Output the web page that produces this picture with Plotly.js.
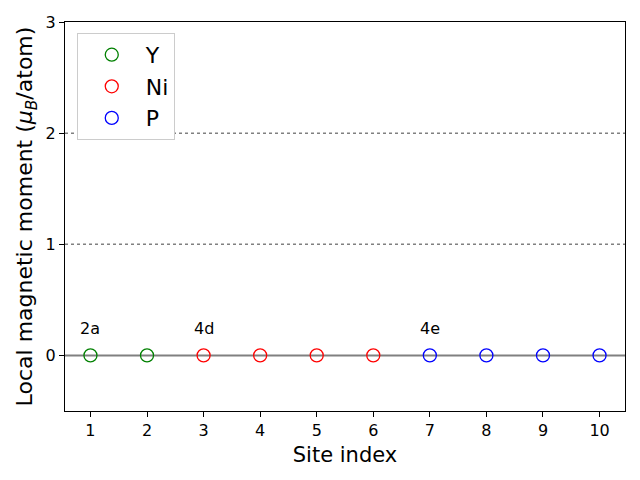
<!DOCTYPE html>
<html>
<head>
<meta charset="utf-8">
<script src="https://cdn.plot.ly/plotly-3.0.1.min.js"></script>
<style>html,body{margin:0;padding:0;background:#fff;}#chart{width:640px;height:480px;}</style>
</head>
<body>
<div id="chart"></div>
<script>
const ySites = [1, 2];
const yMoments = [0, 0];
const niSites = [3, 4, 5, 6];
const niMoments = [0, 0, 0, 0];
const pSites = [7, 8, 9, 10];
const pMoments = [0, 0, 0, 0];
const wyckoffLabels = ["2a", "4d", "4e"];
const wyckoffX = [1, 3, 7];
const wyckoffY = [0.24, 0.24, 0.24];
const refLines = [1, 2];
const xTicks = [1, 2, 3, 4, 5, 6, 7, 8, 9, 10];
const yTicks = [0, 1, 2, 3];

const font = "DejaVu Sans, sans-serif";
function mk(x, y, name, color) {
  return {x: x, y: y, name: name, type: "scatter", mode: "markers",
    marker: {symbol: "circle-open", size: 13, color: color, line: {width: 1.3, color: color}}};
}
const data = [
  mk(ySites, yMoments, "Y", "green"),
  mk(niSites, niMoments, "Ni", "red"),
  mk(pSites, pMoments, "P", "blue")
];
const shapes = [{type: "line", xref: "paper", x0: 0, x1: 1, y0: 0, y1: 0, layer: "below",
  line: {color: "gray", width: 2}}];
refLines.forEach(v => shapes.push({type: "line", xref: "paper", x0: 0, x1: 1, y0: v, y1: v, layer: "below",
  line: {color: "gray", width: 1.5, dash: "dot"}}));
const annotations = wyckoffLabels.map((t, i) => ({x: wyckoffX[i], y: wyckoffY[i], text: t, showarrow: false,
  xanchor: "center", yanchor: "middle", font: {family: font, size: 16, color: "black"}}));
const layout = {
  width: 640, height: 480,
  margin: {l: 65, r: 15, t: 22, b: 69},
  paper_bgcolor: "white", plot_bgcolor: "white",
  font: {family: font, color: "black"},
  showlegend: true,
  legend: {x: 0.021, y: 0.972, xanchor: "left", yanchor: "top", bgcolor: "white",
    bordercolor: "#cccccc", borderwidth: 1, font: {family: font, size: 22}, tracegroupgap: 0,
    itemwidth: 58},
  xaxis: {range: [0.55, 10.45], tickvals: xTicks, ticks: "outside", ticklen: 5, tickcolor: "black",
    showline: true, mirror: true, linecolor: "black", linewidth: 1, showgrid: false, zeroline: false,
    tickfont: {family: font, size: 16},
    title: {text: "Site index", font: {family: font, size: 21}, standoff: 8}},
  yaxis: {range: [-0.5, 3], tickvals: yTicks, ticks: "outside", ticklen: 5, tickcolor: "black",
    showline: true, mirror: true, linecolor: "black", linewidth: 1, showgrid: false, zeroline: false,
    tickfont: {family: font, size: 16},
    title: {text: "Local magnetic moment (<i>μ<sub>B</sub></i>/atom)", font: {family: font, size: 22}, standoff: 6}},
  shapes: shapes,
  annotations: annotations
};
Plotly.newPlot("chart", data, layout, {displayModeBar: false});
</script>
</body>
</html>
